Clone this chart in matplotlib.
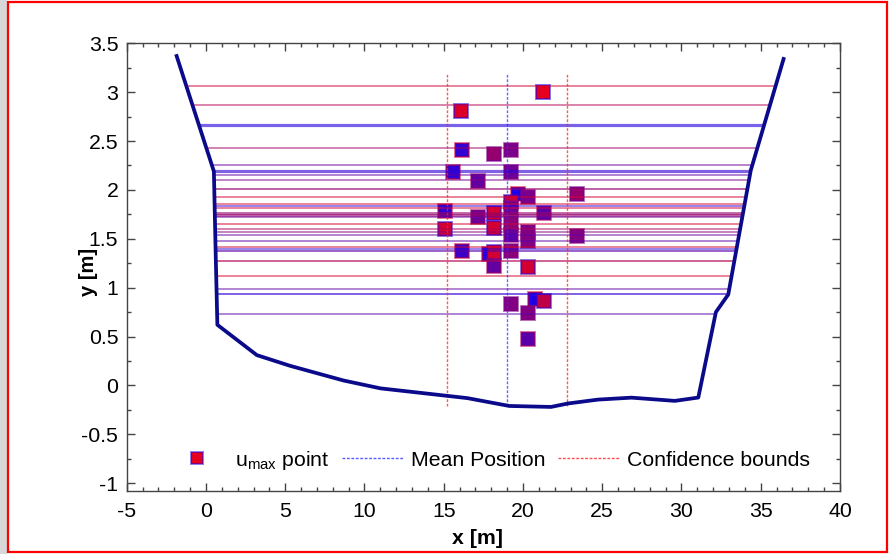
import numpy as np
import matplotlib
matplotlib.use("Agg")
import matplotlib.pyplot as plt
from matplotlib.lines import Line2D
from matplotlib.patches import Rectangle
from matplotlib.ticker import MultipleLocator

plt.rcParams['font.family'] = ['Liberation Sans', 'DejaVu Sans']
plt.rcParams['mathtext.fontset'] = 'custom'
plt.rcParams['mathtext.rm'] = 'Liberation Sans'

# ---- data ----
bed_x = [-1.85, 0.5, 0.62, 0.72, 3.21, 5.32, 8.69, 11.01, 16.5, 19.13, 21.77,
         22.83, 24.73, 26.84, 29.58, 31.06, 32.17, 32.95, 34.37, 36.44]
bed_y = [3.37, 2.19, 1.3, 0.62, 0.31, 0.20, 0.05, -0.03, -0.13, -0.21, -0.22,
         -0.185, -0.145, -0.125, -0.158, -0.124, 0.75, 0.93, 2.20, 3.34]

level_y = [3.06, 2.87, 2.66, 2.43, 2.26, 2.19, 2.15, 2.10, 2.01, 1.93, 1.86,
           1.84, 1.82, 1.76, 1.74, 1.72, 1.65, 1.60, 1.57, 1.54, 1.48, 1.42,
           1.40, 1.38, 1.27, 1.12, 0.99, 0.94, 0.73]
level_t = [0.9, 0.75, 0.05, 0.65, 0.4, 0.1, 0.35, 0.45, 0.6, 0.9, 0.95,
           0.05, 0.9, 0.6, 0.6, 0.4, 0.9, 0.7, 0.5, 0.35, 0.3, 0.9,
           0.1, 0.3, 0.75, 0.95, 0.35, 0.1, 0.3]
level_w = [1.1, 1.1, 2.3, 1.1, 1.1, 2.3, 1.1, 1.1, 1.4, 1.1, 1.1,
           1.1, 1.1, 2.0, 2.0, 1.1, 1.1, 1.1, 1.1, 1.1, 1.1, 1.1,
           1.1, 1.4, 1.4, 1.1, 1.1, 1.4, 1.1]

umax_x = [21.27, 16.08, 16.14, 18.16, 19.24, 15.57, 19.24, 17.15, 19.68, 20.32,
          23.42, 19.24, 19.24, 15.06, 17.15, 18.16, 21.33, 19.24, 19.24, 15.06,
          18.16, 20.32, 20.32, 23.42, 16.14, 17.85, 18.16, 19.24, 18.16, 20.32,
          20.76, 21.33, 19.24, 20.32, 20.32]
umax_y = [3.00, 2.81, 2.41, 2.37, 2.41, 2.18, 2.18, 2.09, 1.96, 1.93,
          1.96, 1.88, 1.81, 1.78, 1.72, 1.76, 1.76, 1.66, 1.54, 1.60,
          1.61, 1.57, 1.48, 1.53, 1.38, 1.34, 1.36, 1.38, 1.22, 1.21,
          0.88, 0.86, 0.83, 0.74, 0.47]
umax_t = [1.0, 0.95, 0.1, 0.6, 0.45, 0.1, 0.4, 0.35, 0.0, 0.45,
          0.6, 0.85, 0.4, 0.1, 0.4, 0.9, 0.3, 0.55, 0.3, 0.9,
          0.9, 0.5, 0.5, 0.5, 0.15, 0.0, 0.9, 0.55, 0.35, 0.9,
          0.0, 0.8, 0.5, 0.5, 0.3]

mean_x = 19.0
conf_x = [15.2, 22.8]
vline_span = [-0.21, 3.2]

xticks = [-5, 0, 5, 10, 15, 20, 25, 30, 35, 40]
yticks = [-1, -0.5, 0, 0.5, 1, 1.5, 2, 2.5, 3, 3.5]

RED = np.array([0.9, 0.0, 0.12])
BLUE = np.array([0.12, 0.0, 0.9])
FS = 15.3


def mix(t):
    return tuple(t * RED + (1 - t) * BLUE)


fig = plt.figure(figsize=(8.89, 5.54), dpi=100)
# frame decoration
fig.patches.append(Rectangle((0, 0), 0.0075, 1, transform=fig.transFigure,
                             facecolor='#d8d8d8', edgecolor='none', zorder=0))
fig.patches.append(Rectangle((0.0085, 0.003), 0.989, 0.994, transform=fig.transFigure,
                             facecolor='none', edgecolor='red', lw=1.6, zorder=5))

L, R, T, B = 126.7, 840, 43.3, 491
ax = fig.add_axes([L / 889, 1 - B / 554, (R - L) / 889, (B - T) / 554])

# markers
for x, y, t in zip(umax_x, umax_y, umax_t):
    ax.plot([x], [y], 's', ms=9.5, mfc=mix(t), mec=mix(1 - t) + (0.55,), mew=1.4,
            zorder=3)

# water levels between banks
bx = np.array(bed_x)
by = np.array(bed_y)
imin = int(np.argmin(by))
lx, ly = bx[:imin + 1], by[:imin + 1]
rx, ry = bx[imin:], by[imin:]
for y, t, w in zip(level_y, level_t, level_w):
    xl = np.interp(y, ly[::-1], lx[::-1])
    xr = np.interp(y, ry, rx)
    ax.plot([xl, xr], [y, y], color=mix(t), alpha=0.62, lw=w, zorder=4,
            solid_capstyle='butt')

# channel bed
ax.plot(bed_x, bed_y, color='#0a0a8a', lw=2.7, zorder=6, solid_joinstyle='round')

# mean and confidence
ax.plot([mean_x, mean_x], vline_span, ls=(0, (2, 1.2)), color='#3030ff', alpha=0.75,
        lw=1.0, zorder=5)
for cx in conf_x:
    ax.plot([cx, cx], vline_span, ls=(0, (2, 1.2)), color='#ff2020', alpha=0.75,
            lw=1.0, zorder=5)

ax.set_xlim(-5, 40)
ax.set_ylim(-1.08, 3.5)
ax.set_xticks(xticks)
ax.set_yticks(yticks)
ax.set_xticklabels([f'{v:g}' for v in xticks])
ax.set_yticklabels([f'{v:g}' for v in yticks])
ax.xaxis.set_minor_locator(MultipleLocator(1))
ax.yaxis.set_minor_locator(MultipleLocator(0.25))
ax.tick_params(which='both', direction='in', top=True, right=True,
               color='#444444', labelsize=FS)
ax.tick_params(axis='x', which='major', pad=8)
ax.tick_params(axis='y', which='major', pad=6)
ax.tick_params(which='major', length=6, width=1)
ax.tick_params(which='minor', length=3, width=1)
for s in ax.spines.values():
    s.set_color('#444444')
    s.set_linewidth(1.0)

ax.set_xlabel('x [m]', fontsize=FS, fontweight='bold')
ax.set_ylabel('y [m]', fontsize=14.5, fontweight='bold')
ax.xaxis.set_label_coords((477 - L) / (R - L), (B - 538) / (B - T))
ax.yaxis.set_label_coords((89 - L) / (R - L), (B - 272) / (B - T))
ax.xaxis.label.set_va('center')
ax.yaxis.label.set_va('center')

handles = [
    Line2D([], [], ls='none', marker='s', ms=8, mfc=mix(1.0), mec=mix(0.0) + (0.5,), mew=1.4),
    Line2D([], [], ls=(0, (2, 1.2)), color='#3030ff', lw=1.0, alpha=0.8),
    Line2D([], [], ls=(0, (2, 1.2)), color='#ff2020', lw=1.0, alpha=0.8),
]
labels = [r'u$_{\mathrm{max}}$ point', 'Mean Position', 'Confidence bounds']
ax.legend(handles, labels, loc='center', bbox_to_anchor=((488 - L) / (R - L), (B - 460) / (B - T)),
          ncol=3, frameon=False, fontsize=FS, handlelength=2.9, handletextpad=0.33,
          columnspacing=0.6, borderpad=0, borderaxespad=0)

fig.savefig('out.png', dpi=100)
